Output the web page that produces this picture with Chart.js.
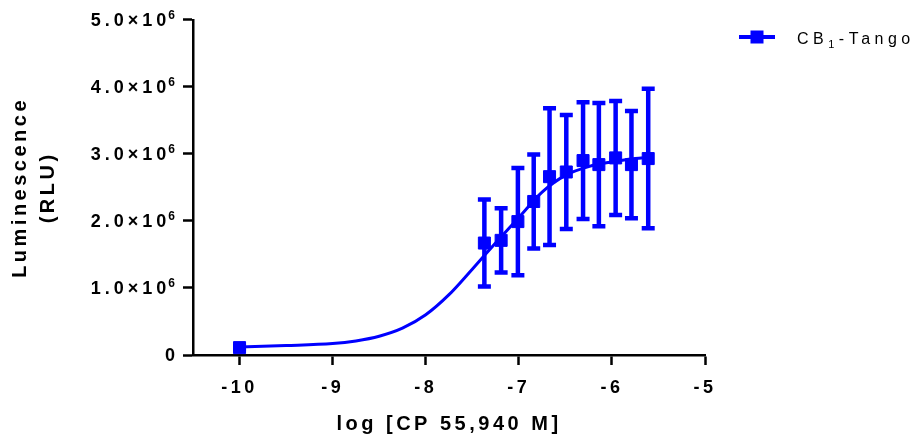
<!DOCTYPE html>
<html>
<head>
<meta charset="utf-8">
<script src="https://cdn.jsdelivr.net/npm/chart.js@4"></script>
<style>
  body { margin: 0; background: #fff; }
  #wrap { width: 920px; height: 447px; }
</style>
</head>
<body>
<div id="wrap"><canvas id="grafico" width="920" height="447"></canvas></div>
<script>
// dati (log M, RLU)
const logDose = [-10, -7.37, -7.19, -7.01, -6.84, -6.67, -6.49, -6.31, -6.14, -5.96, -5.79, -5.61];
const meanRLU = [0.11e6, 1.67e6, 1.71e6, 1.99e6, 2.29e6, 2.66e6, 2.73e6, 2.90e6, 2.84e6, 2.94e6, 2.84e6, 2.93e6];
const sdRLU = [0.02e6, 0.65e6, 0.48e6, 0.80e6, 0.70e6, 1.02e6, 0.85e6, 0.87e6, 0.92e6, 0.85e6, 0.80e6, 1.04e6];

// curva di fit, punti letti lungo la linea
const curveLogDose = [-10, -9.5, -9, -8.75, -8.5, -8.25, -8, -7.75, -7.5, -7.25, -7, -6.75, -6.5, -6.25, -6, -5.75, -5.61];
const curveRLU = [0.12e6, 0.14e6, 0.17e6, 0.21e6, 0.28e6, 0.40e6, 0.60e6, 0.90e6, 1.28e6, 1.67e6, 2.05e6, 2.43e6, 2.68e6, 2.81e6, 2.88e6, 2.93e6, 2.95e6];

const xTickValues = [-10, -9, -8, -7, -6, -5];
const xTickLabels = ['-10', '-9', '-8', '-7', '-6', '-5'];
const yTickValues = [0, 1e6, 2e6, 3e6, 4e6, 5e6];
const yTickBase = ['0', '1.0×10', '2.0×10', '3.0×10', '4.0×10', '5.0×10'];
const yTickExp = ['', '6', '6', '6', '6', '6'];
const seriesName = ['CB', '1', '-Tango'];

const blu = '#0000ff';
const fam = '"Liberation Sans", Arial, sans-serif';

const spacing = {
  id: 'spacing',
  beforeDraw(chart) {
    chart.ctx.letterSpacing = '3.5px';
  }
};

const errorBars = {
  id: 'errorBars',
  afterDatasetsDraw(chart) {
    const { ctx, scales: { x, y } } = chart;
    ctx.save();
    ctx.strokeStyle = blu;
    ctx.lineWidth = 4.5;
    logDose.forEach((d, i) => {
      const px = x.getPixelForValue(d);
      const top = y.getPixelForValue(meanRLU[i] + sdRLU[i]);
      const bot = y.getPixelForValue(meanRLU[i] - sdRLU[i]);
      ctx.beginPath();
      ctx.moveTo(px, top); ctx.lineTo(px, bot);
      ctx.moveTo(px - 6.5, top); ctx.lineTo(px + 6.5, top);
      ctx.moveTo(px - 6.5, bot); ctx.lineTo(px + 6.5, bot);
      ctx.stroke();
    });
    ctx.restore();
  }
};

// etichette asse y con esponente
const yLabels = {
  id: 'yLabels',
  afterDraw(chart) {
    const { ctx, scales: { y } } = chart;
    const right = chart.chartArea.left - 18;
    ctx.save();
    ctx.fillStyle = '#000';
    ctx.textAlign = 'right';
    yTickValues.forEach((v, i) => {
      const py = y.getPixelForValue(v);
      let xr = right;
      if (yTickExp[i]) {
        ctx.letterSpacing = '0px';
        ctx.font = 'bold 12px ' + fam;
        ctx.textBaseline = 'alphabetic';
        ctx.fillText(yTickExp[i], xr, py - 1);
        xr -= ctx.measureText(yTickExp[i]).width + 2;
      }
      ctx.letterSpacing = '4px';
      ctx.font = 'bold 18px ' + fam;
      ctx.textBaseline = 'middle';
      ctx.fillText(yTickBase[i], xr + 4, py + 1);
    });
    ctx.restore();
  }
};

const legendBox = {
  id: 'legendBox',
  afterDraw(chart) {
    const ctx = chart.ctx;
    const x0 = chart.chartArea.right + 34;
    const y0 = 37;
    ctx.save();
    ctx.strokeStyle = blu;
    ctx.lineWidth = 4;
    ctx.beginPath();
    ctx.moveTo(x0, y0); ctx.lineTo(x0 + 36, y0);
    ctx.stroke();
    ctx.fillStyle = blu;
    ctx.fillRect(x0 + 11.5, y0 - 6.5, 13, 13);
    ctx.fillStyle = '#000';
    ctx.textBaseline = 'alphabetic';
    ctx.letterSpacing = '4.5px';
    let tx = x0 + 58;
    ctx.font = '16px ' + fam;
    ctx.fillText(seriesName[0], tx, y0 + 7);
    tx += ctx.measureText(seriesName[0]).width;
    ctx.font = '11px ' + fam;
    ctx.fillText(seriesName[1], tx, y0 + 11);
    tx += ctx.measureText(seriesName[1]).width;
    ctx.font = '16px ' + fam;
    ctx.fillText(seriesName[2], tx, y0 + 7);
    ctx.restore();
  }
};

const ctx = document.getElementById('grafico').getContext('2d');

new Chart(ctx, {
  type: 'scatter',
  data: {
    datasets: [
      {
        label: seriesName.join(''),
        data: logDose.map((d, i) => ({ x: d, y: meanRLU[i] })),
        showLine: false,
        pointStyle: 'rect',
        pointRadius: 8.5,
        backgroundColor: blu,
        borderColor: blu,
        borderWidth: 1,
        clip: false
      },
      {
        label: 'fit',
        data: curveLogDose.map((d, i) => ({ x: d, y: curveRLU[i] })),
        showLine: true,
        cubicInterpolationMode: 'monotone',
        pointRadius: 0,
        borderColor: blu,
        borderWidth: 3,
        clip: false
      }
    ]
  },
  options: {
    responsive: false,
    animation: false,
    events: [],
    layout: { padding: { top: 14, right: 215, bottom: 0, left: 0 } },
    plugins: {
      legend: { display: false },
      tooltip: { enabled: false }
    },
    scales: {
      x: {
        type: 'linear',
        min: -10.5,
        max: -5,
        afterBuildTicks: s => { s.ticks = xTickValues.map(v => ({ value: v })); },
        afterFit: s => { s.height = 92; },
        border: { color: '#000', width: 2.5 },
        grid: { drawOnChartArea: false, tickLength: 10, tickColor: '#000', tickWidth: 2.5 },
        ticks: {
          color: '#000',
          padding: 12,
          autoSkip: false,
          maxRotation: 0,
          font: { family: fam, size: 18, weight: 'bold' },
          callback: (v, i) => xTickLabels[i]
        },
        title: {
          display: true,
          text: 'log [CP 55,940 M]',
          color: '#000',
          font: { family: fam, size: 20, weight: 'bold', lineHeight: 1.4 },
          padding: { top: 0, bottom: 9 }
        }
      },
      y: {
        min: 0,
        max: 5e6,
        afterBuildTicks: s => { s.ticks = yTickValues.map(v => ({ value: v })); },
        afterFit: s => { s.width = 193; },
        border: { color: '#000', width: 2.5 },
        grid: { drawOnChartArea: false, tickLength: 10, tickColor: '#000', tickWidth: 2.5 },
        ticks: {
          color: '#000',
          padding: 9,
          font: { family: fam, size: 18, weight: 'bold' },
          callback: () => ''
        },
        title: {
          display: true,
          text: ['Luminescence', '(RLU)'],
          color: '#000',
          font: { family: fam, size: 20, weight: 'bold', lineHeight: 1.4 },
          padding: { top: 6, bottom: 0 }
        }
      }
    }
  },
  plugins: [spacing, errorBars, yLabels, legendBox]
});
</script>
</body>
</html>
